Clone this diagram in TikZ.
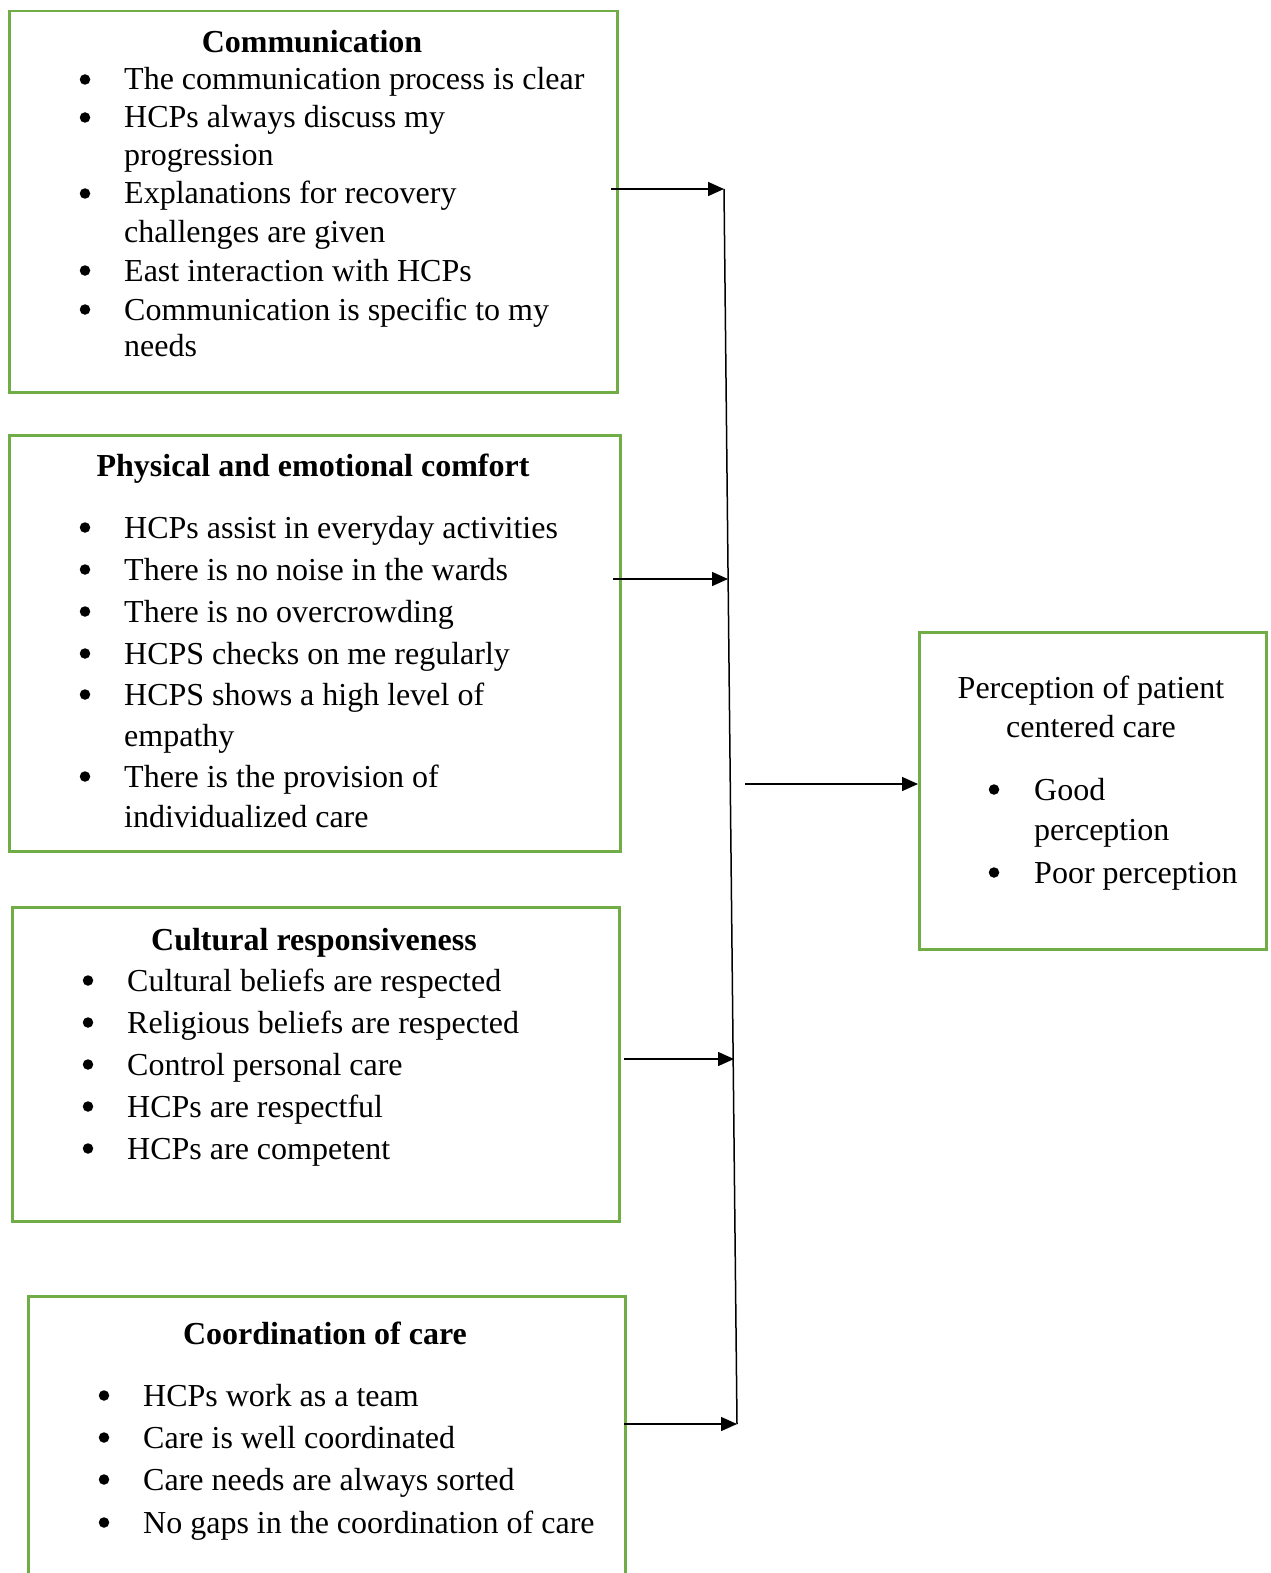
\documentclass[tikz,border=0pt]{standalone}
\usepackage{fontspec}
\setmainfont{Liberation Serif}
\usetikzlibrary{arrows.meta}
\definecolor{boxgreen}{HTML}{70AD47}
\tikzset{
  greenbox/.style={draw=boxgreen, line width=2.5pt, inner sep=0pt, anchor=north west, fill=none},
  txt/.style={inner sep=0pt, font=\fontsize{32}{38}\selectfont, anchor=base west},
  ttl/.style={inner sep=0pt, font=\fontsize{32}{38}\selectfont\bfseries, anchor=base},
  ctr/.style={inner sep=0pt, font=\fontsize{32}{38}\selectfont, anchor=base},
  bul/.style={circle, fill=black, inner sep=0pt, minimum size=10.5pt},
  conn/.style={line width=1.5pt, -{Triangle[length=16pt,width=14pt]}},
  spine/.style={line width=1.5pt}
}
\newcommand{\bitem}[5]{%
  \node[bul] (#1b) at (#2,#4-10.5) {};
  \node[txt] (#1) at (#3,#4) {#5};}
\begin{document}
\begin{tikzpicture}[x=1pt,y=-1pt]
\useasboundingbox (0,0) rectangle (1270,1573);
\clip (0,0) rectangle (1270,1573);
\fill[white] (0,0) rectangle (1270,1573);

% Boxes
\node[greenbox, minimum width=608pt, minimum height=381pt] (comm) at (8,10) {};
\node[greenbox, minimum width=611pt, minimum height=416pt] (phys) at (8,434) {};
\node[greenbox, minimum width=607pt, minimum height=314pt] (cult) at (11,906) {};
\node[greenbox, minimum width=597pt, minimum height=340pt] (coord) at (27,1295) {};
\node[greenbox, minimum width=347pt, minimum height=317pt] (perc) at (918,631) {};

% Communication
\node[ttl] (commt) at (312,53) {Communication};
\bitem{c1}{85}{124}{90}{The communication process is clear}
\bitem{c2}{85}{124}{128}{HCPs always discuss my}
\node[txt] (c2b2) at (124,166) {progression};
\bitem{c3}{85}{124}{204}{Explanations for recovery}
\node[txt] (c3b2) at (124,242) {challenges are given};
\bitem{c4}{85}{124}{281}{East interaction with HCPs}
\bitem{c5}{85}{124}{320}{Communication is specific to my}
\node[txt] (c5b2) at (124,356) {needs};

% Physical and emotional comfort
\node[ttl] (physt) at (313,476) {Physical and emotional comfort};
\bitem{p1}{85}{124}{538}{HCPs assist in everyday activities}
\bitem{p2}{85}{124}{580}{There is no noise in the wards}
\bitem{p3}{85}{124}{622}{There is no overcrowding}
\bitem{p4}{85}{124}{664}{HCPS checks on me regularly}
\bitem{p5}{85}{124}{705}{HCPS shows a high level of}
\node[txt] (p5b2) at (124,746) {empathy};
\bitem{p6}{85}{124}{787}{There is the provision of}
\node[txt] (p6b2) at (124,827) {individualized care};

% Cultural responsiveness
\node[ttl] (cultt) at (314,950) {Cultural responsiveness};
\bitem{k1}{88}{127}{991}{Cultural beliefs are respected}
\bitem{k2}{88}{127}{1033}{Religious beliefs are respected}
\bitem{k3}{88}{127}{1075}{Control personal care}
\bitem{k4}{88}{127}{1117}{HCPs are respectful}
\bitem{k5}{88}{127}{1159}{HCPs are competent}

% Coordination of care
\node[ttl] (coordt) at (325,1344) {Coordination of care};
\bitem{d1}{104}{143}{1406}{HCPs work as a team}
\bitem{d2}{104}{143}{1448}{Care is well coordinated}
\bitem{d3}{104}{143}{1490}{Care needs are always sorted}
\bitem{d4}{104}{143}{1533}{No gaps in the coordination of care}

% Perception box
\node[ctr] (pt1) at (1091,698) {Perception of patient};
\node[ctr] (pt2) at (1091,737) {centered care};
\bitem{q1}{994}{1034}{800}{Good}
\node[txt] (q1b2) at (1034,840) {perception};
\bitem{q2}{994}{1034}{883}{Poor perception}

% Spine and connectors
\coordinate (top) at (724,189);
\coordinate (bot) at (737,1424);
\draw[spine] (top) -- (bot);
\coordinate (s1) at (611,189);
\coordinate (s2) at (613,579);
\coordinate (e2) at (728,579);
\coordinate (s3) at (624,1059);
\coordinate (e3) at (734,1059);
\coordinate (s4) at (624,1424);
\coordinate (s5) at (745,784);
\draw[conn] (s1) -- (top);
\draw[conn] (s2) -- (e2);
\draw[conn] (s3) -- (e3);
\draw[conn] (s4) -- (bot);
\draw[conn] (s5) -- (s5 -| perc.west);
\end{tikzpicture}
\end{document}
